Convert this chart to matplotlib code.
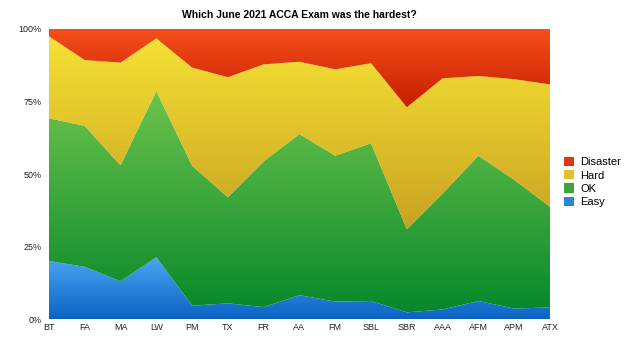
import numpy as np
import matplotlib
matplotlib.use("Agg")
import matplotlib.pyplot as plt
from matplotlib.colors import LinearSegmentedColormap
from matplotlib.patches import Rectangle
from matplotlib.ticker import FuncFormatter

plt.rcParams['font.family'] = ['Liberation Sans', 'DejaVu Sans']

exams = ["BT", "FA", "MA", "LW", "PM", "TX", "FR", "AA", "FM", "SBL",
         "SBR", "AAA", "AFM", "APM", "ATX"]
# percentages per exam
easy = [20.0, 18.0, 13.0, 21.3, 4.6, 5.4, 4.1, 8.2, 6.0, 6.2, 2.3, 3.3, 6.2, 3.6, 4.0]
ok = [49.2, 48.6, 40.0, 57.3, 48.3, 36.6, 50.3, 55.6, 50.3, 54.4, 28.7, 40.0, 50.1, 44.4, 34.7]
hard = [28.3, 22.7, 35.4, 18.2, 33.8, 41.4, 33.4, 24.9, 29.8, 27.6, 42.0, 39.7, 27.5, 34.7, 42.2]
disaster = [2.5, 10.7, 11.6, 3.2, 13.3, 16.6, 12.2, 11.3, 13.9, 11.8, 27.0, 17.0, 16.2, 17.3, 19.1]

series = [("Easy", easy, "#4ba6f2", "#0b62c4"),
          ("OK", ok, "#6ec44c", "#07882b"),
          ("Hard", hard, "#f6e234", "#c9a222"),
          ("Disaster", disaster, "#f64f1b", "#c71e00")]

fig = plt.figure(figsize=(6.44, 3.57), dpi=100)
ax = fig.add_axes([0.076, 0.1064, 0.778, 0.8124])

x = np.arange(len(exams))
base = np.zeros(len(exams))
handles = []
for name, vals, c_top, c_bot in series:
    top = base + np.array(vals)
    poly = ax.fill_between(x, base, top, facecolor="none", edgecolor="none")
    cmap = LinearSegmentedColormap.from_list(name, [c_bot, c_top])
    grad = np.linspace(0, 1, 256).reshape(-1, 1)
    im = ax.imshow(grad, cmap=cmap, aspect="auto", origin="lower",
                   extent=[x[0], x[-1], base.min(), top.max()], zorder=1)
    im.set_clip_path(poly.get_paths()[0], transform=ax.transData)
    handles.append(Rectangle((0, 0), 1, 1, facecolor=cmap(0.5), edgecolor="none", label=name))
    base = top

ax.set_xlim(x[0], x[-1])
ax.set_ylim(0, 100)
ax.set_xticks(x)
ax.set_xticklabels(exams)
ax.set_yticks([0, 25, 50, 75, 100])
ax.yaxis.set_major_formatter(FuncFormatter(lambda v, p: "%d%%" % v))
ax.tick_params(length=0, labelsize=6.5, colors="#222222", pad=3)
ax.tick_params(axis="y", pad=5.5)
for s in ax.spines.values():
    s.set_visible(False)
ax.axhline(0, color="#0a4f9e", lw=1, zorder=3)

ax.set_title("Which June 2021 ACCA Exam was the hardest?", fontsize=7.5,
             fontweight="bold", pad=8)

fig.legend(handles=handles[::-1], loc="center left", bbox_to_anchor=(0.867, 0.49),
           frameon=False, fontsize=8, handlelength=0.9, handleheight=0.9,
           handletextpad=0.6, labelspacing=0.25, borderpad=0)

fig.savefig("out.png", dpi=100)
